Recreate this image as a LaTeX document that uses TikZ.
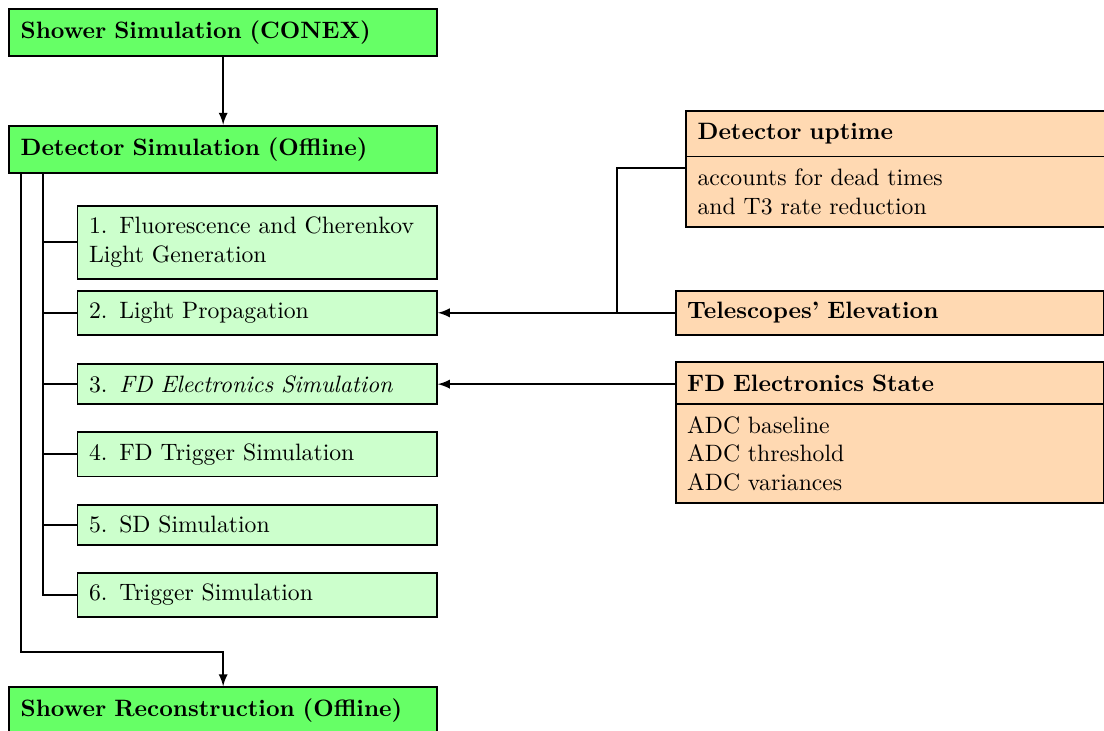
\documentclass[tikz,border=0pt]{standalone}
\usetikzlibrary{shapes.multipart}

\newcommand{\boxfont}{\fontsize{10.3pt}{12.4pt}\selectfont}

\begin{document}
\begin{tikzpicture}
    	[>=latex,
    	mainstep/.style={rectangle, draw, thick, fill=green!60, font=\boxfont\bfseries, text width=6.19cm, inner sep=5pt, minimum height=0.72cm, align=left},
    	substep/.style={rectangle, draw, thick, fill=green!20, font=\boxfont, text width=5.14cm, inner sep=5pt, align=left},
    	infobox/.style={rectangle, draw, thick, fill=orange!30, font=\boxfont, text width=6.19cm, inner sep=5pt, align=left}]
    	
    	\useasboundingbox (0,0) rectangle (16.87,-11.17);
    	
    	\node[mainstep] (conex) at (3.41,-0.50) {Shower Simulation (CONEX)};
    	\node[mainstep] (detsim) at (3.41,-2.28) {Detector Simulation (Offline)};
    	\node[mainstep] (reco) at (3.41,-10.86) {Shower Reconstruction (Offline)};
    	
    	\node[substep] (b1) at (3.93,-3.70) {1. Fluorescence and Cherenkov\\ Light Generation};
    	\node[substep] (b2) at (3.93,-4.78) {2. Light Propagation};
    	\node[substep] (b3) at (3.93,-5.87) {3. \textit{FD Electronics Simulation}};
    	\node[substep] (b4) at (3.93,-6.94) {4. FD Trigger Simulation};
    	\node[substep] (b5) at (3.93,-8.02) {5. SD Simulation};
    	\node[substep] (b6) at (3.93,-9.09) {6. Trigger Simulation};
    	
    	\node[infobox, rectangle split, rectangle split parts=2, anchor=north west] (uptime) at (10.47,-1.68)
    		{\textbf{Detector uptime} \nodepart{two} accounts for dead times\\ and T3 rate reduction};
    	\node[infobox, font=\boxfont\bfseries, anchor=west] (teles) at (10.31,-4.78) {Telescopes' Elevation};
    	\node[infobox, rectangle split, rectangle split parts=2, anchor=north west] (fdstate) at (10.31,-5.52)
    		{\textbf{FD Electronics State} \nodepart{two} ADC baseline\\ ADC threshold\\ ADC variances};
    	
    	\coordinate (trunkA) at (0.66,-2.28);
    	\coordinate (trunkB) at (0.32,-2.28);
    	\coordinate (elbow) at (3.41,-9.96);
    	\coordinate (joint) at (9.43,-4.78);
    	
    	\draw[->, thick] (conex) -- (detsim);
    	
    	\draw[thick] (detsim.south -| trunkA) |- (b6.west);
    	\foreach \b in {b1,b2,b3,b4,b5}
    		\draw[thick] (\b.west -| trunkA) -- (\b.west);
    	\draw[->, thick] (detsim.south -| trunkB) |- (elbow) -- (reco.north);
    	
    	\draw[->, thick] (teles.west) -- (b2.east);
    	\draw[thick] ([yshift=-0.17cm]uptime.text split west) -| (joint);
    	\draw[->, thick] (b3.east -| fdstate.west) -- (b3.east);
    \end{tikzpicture}
\end{document}
